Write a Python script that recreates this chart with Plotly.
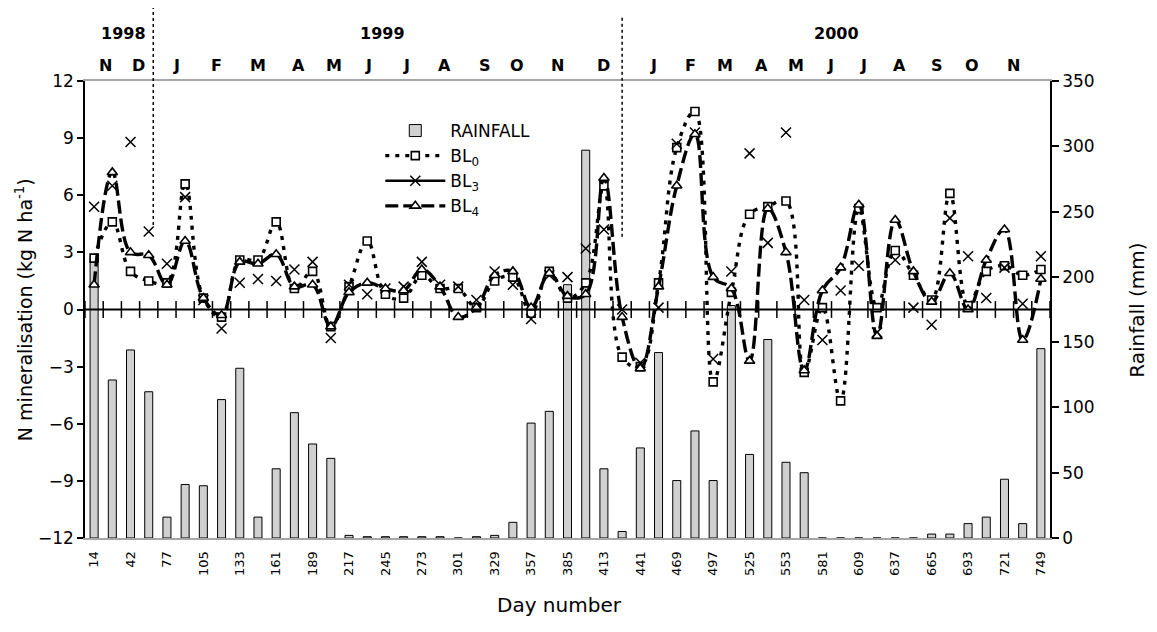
import plotly.graph_objects as go

# ---------------- data ----------------
days = [14, 28, 42, 56, 77, 91, 105, 119, 133, 147, 161, 175, 189, 203, 217, 231, 245,
        259, 273, 287, 301, 315, 329, 343, 357, 371, 385, 399, 413, 427, 441, 455, 469,
        483, 497, 511, 525, 539, 553, 567, 581, 595, 609, 623, 637, 651, 665, 679, 693,
        707, 721, 735, 749]

rainfall = [214, 121, 144, 112, 16, 41, 40, 106, 130, 16, 53, 96, 72, 61, 2, 1, 1, 1, 1, 1,
            0, 1, 2, 12, 88, 97, 194, 297, 53, 5, 69, 142, 44, 82, 44, 178, 64, 152, 58, 50,
            0, 0, 0, 0, 0, 0, 3, 3, 11, 16, 45, 11, 145]

bl0 = [2.7, 4.6, 2.0, 1.5, 1.4, 6.6, 0.6, -0.4, 2.6, 2.6, 4.6, 1.1, 2.0, -0.9, 1.2, 3.6,
       0.8, 0.6, 1.8, 1.1, 1.1, 0.1, 1.5, 1.7, -0.2, 2.0, 0.6, 1.4, 6.5, -2.5, -3.0, 1.4,
       8.5, 10.4, -3.8, 0.9, 5.0, 5.4, 5.7, -3.3, 0.1, -4.8, 5.3, 0.1, 3.1, 1.8, 0.5, 6.1,
       0.2, 2.0, 2.3, 1.8, 2.1]

bl3 = [5.4, 6.5, 8.8, 4.1, 2.4, 5.9, 0.5, -1.0, 1.4, 1.6, 1.5, 2.1, 2.5, -1.5, 1.3, 0.8,
       1.1, 1.2, 2.5, 1.3, 1.2, 0.5, 2.0, 1.3, -0.5, 1.8, 1.7, 3.2, 4.2, 0.0, -2.8, 0.1,
       8.7, 9.3, -2.6, 2.0, 8.2, 3.5, 9.3, 0.5, -1.6, 1.0, 2.3, -1.2, 2.6, 0.1, -0.8, 4.8,
       2.8, 0.6, 2.2, 0.3, 2.8]

bl4 = [1.3, 7.2, 3.0, 2.85, 1.3, 3.6, 0.6, -0.3, 2.5, 2.4, 2.9, 1.2, 1.3, -0.9, 0.9, 1.4,
       1.1, 1.0, 2.1, 1.2, -0.4, 0.1, 1.8, 2.0, 0.1, 1.9, 0.7, 0.8, 6.9, -0.4, -3.1, 1.2,
       6.5, 9.2, 1.7, 1.1, -2.7, 5.3, 3.0, -3.2, 1.0, 2.2, 5.5, -1.4, 4.7, 2.0, 0.4, 1.9,
       0.0, 2.6, 4.2, -1.6, 1.6]

month_labels = ["N", "D", "J", "F", "M", "A", "M", "J", "J", "A", "S", "O", "N",
                "D", "J", "F", "M", "A", "M", "J", "J", "A", "S", "O", "N"]
year_labels = ["1998", "1999", "2000"]

# label placement (in category-index units)
month_pos = [0.6, 2.42, 4.51, 6.71, 9.02, 11.22, 13.2, 15.07, 17.16, 19.25, 21.45, 23.21,
             25.47, 28.0, 30.75, 32.78, 34.65, 36.63, 38.56, 40.43, 42.24, 44.22, 46.31,
             48.24, 50.5]
year_pos = [1.6, 15.85, 40.8]
year_breaks = [3.25, 29.0]

FONT = "DejaVu Sans"
idx = list(range(len(days)))

fig = go.Figure()

# rainfall bars (base axis 'y', right side)
fig.add_trace(go.Bar(
    x=idx, y=rainfall, name="RAINFALL", yaxis="y",
    marker=dict(color="#d0d0d0", line=dict(color="black", width=1)),
    width=0.44,
))

# BL0 dotted with squares
fig.add_trace(go.Scatter(
    x=idx, y=bl0, name="BL<sub>0</sub>", yaxis="y2", mode="lines+markers",
    line=dict(color="black", width=3.4, dash="4px,6px", shape="spline", smoothing=1.1),
    marker=dict(symbol="square", size=8, color="white", line=dict(color="black", width=1.6)),
))

# BL3 markers only in plot; legend entry shows line + marker
fig.add_trace(go.Scatter(
    x=idx, y=bl3, name="BL<sub>3</sub>", yaxis="y2", mode="markers",
    marker=dict(symbol="x-thin", size=10, color="black", line=dict(color="black", width=1.5)),
    showlegend=False, legendgroup="bl3",
))
fig.add_trace(go.Scatter(
    x=[None], y=[None], name="BL<sub>3</sub>", yaxis="y2", mode="lines+markers",
    line=dict(color="black", width=2.5),
    marker=dict(symbol="x-thin", size=10, color="black", line=dict(color="black", width=1.5)),
    legendgroup="bl3",
))

# BL4 long dash with triangles
fig.add_trace(go.Scatter(
    x=idx, y=bl4, name="BL<sub>4</sub>", yaxis="y2", mode="lines+markers",
    line=dict(color="black", width=3.4, dash="13px,5px", shape="spline", smoothing=1.1),
    marker=dict(symbol="triangle-up", size=9, color="white", line=dict(color="black", width=1.6)),
))

# tick marks across the zero line at category boundaries
bounds = [i - 0.5 for i in range(len(days) + 1)]
fig.add_trace(go.Scatter(
    x=bounds, y=[0] * len(bounds), yaxis="y2", mode="markers", showlegend=False,
    hoverinfo="skip",
    marker=dict(symbol="line-ns", size=12, line=dict(color="black", width=1.5)),
))

shapes = [dict(type="line", xref="paper", yref="y2", x0=0, x1=1, y0=0, y1=0,
               line=dict(color="black", width=1.8), layer="above")]
y_tops = [1.16, 1.14]
y_bots = [0.685, 0.659]
for xb, yt, yb in zip(year_breaks, y_tops, y_bots):
    shapes.append(dict(type="line", xref="x", yref="paper", x0=xb, x1=xb, y0=yb, y1=yt,
                       line=dict(color="black", width=1.5, dash="dot")))

annotations = []
for lab, p in zip(month_labels, month_pos):
    annotations.append(dict(text=lab, x=p, y=1.033, xref="x", yref="paper",
                            showarrow=False, xanchor="center", yanchor="middle",
                            font=dict(family=FONT, size=16, color="black", weight="bold")))
for lab, p in zip(year_labels, year_pos):
    annotations.append(dict(text=lab, x=p, y=1.105, xref="x", yref="paper",
                            showarrow=False, xanchor="center", yanchor="middle",
                            font=dict(family=FONT, size=16, color="black", weight="bold")))
annotations.append(dict(text="N mineralisation (kg N ha<sup>-1</sup>)", x=-0.063, y=0.499,
                        xref="paper", yref="paper", textangle=-90, showarrow=False,
                        xanchor="center", yanchor="middle",
                        font=dict(family=FONT, size=19, color="black")))
annotations.append(dict(text="Rainfall (mm)", x=1.090, y=0.499,
                        xref="paper", yref="paper", textangle=-90, showarrow=False,
                        xanchor="center", yanchor="middle",
                        font=dict(family=FONT, size=20, color="black")))
annotations.append(dict(text="Day number", x=0.492, y=-0.147,
                        xref="paper", yref="paper", showarrow=False,
                        xanchor="center", yanchor="middle",
                        font=dict(family=FONT, size=20, color="black")))

# page body has an 8px margin, so the figure is drawn 8px smaller and shifted
fig.update_layout(
    width=1149, height=624,
    margin=dict(l=77, r=107, t=73, b=94),
    paper_bgcolor="white", plot_bgcolor="white",
    font=dict(family=FONT, color="black"),
    showlegend=True,
    legend=dict(x=0.306, y=0.93, xanchor="left", yanchor="top",
                bgcolor="rgba(0,0,0,0)", font=dict(family=FONT, size=17, color="black"),
                itemwidth=60, tracegroupgap=0),
    xaxis=dict(
        range=[-0.5, len(days) - 0.5],
        tickmode="array", tickvals=idx[::2], ticktext=[str(d) for d in days[::2]],
        tickangle=-90, tickfont=dict(family=FONT, size=13, color="black"),
        showline=True, linecolor="#a6a6a6", linewidth=2, mirror=True,
        showgrid=False, zeroline=False, ticks="", ticklabelstandoff=6,
    ),
    yaxis=dict(
        range=[0, 350], dtick=50, side="right",
        showline=True, linecolor="black", linewidth=1.5,
        ticks="outside", ticklen=7, tickwidth=1.5, tickcolor="black",
        tickfont=dict(family=FONT, size=17, color="black"),
        showgrid=False, zeroline=False,
    ),
    yaxis2=dict(
        range=[-12, 12], dtick=3, side="left", overlaying="y",
        showline=True, linecolor="black", linewidth=1.5,
        ticks="outside", ticklen=6, tickwidth=1.5, tickcolor="black",
        tickfont=dict(family=FONT, size=17, color="black"),
        showgrid=False, zeroline=False,
    ),
    shapes=shapes,
    annotations=annotations,
)

fig.write_html("out.html")
